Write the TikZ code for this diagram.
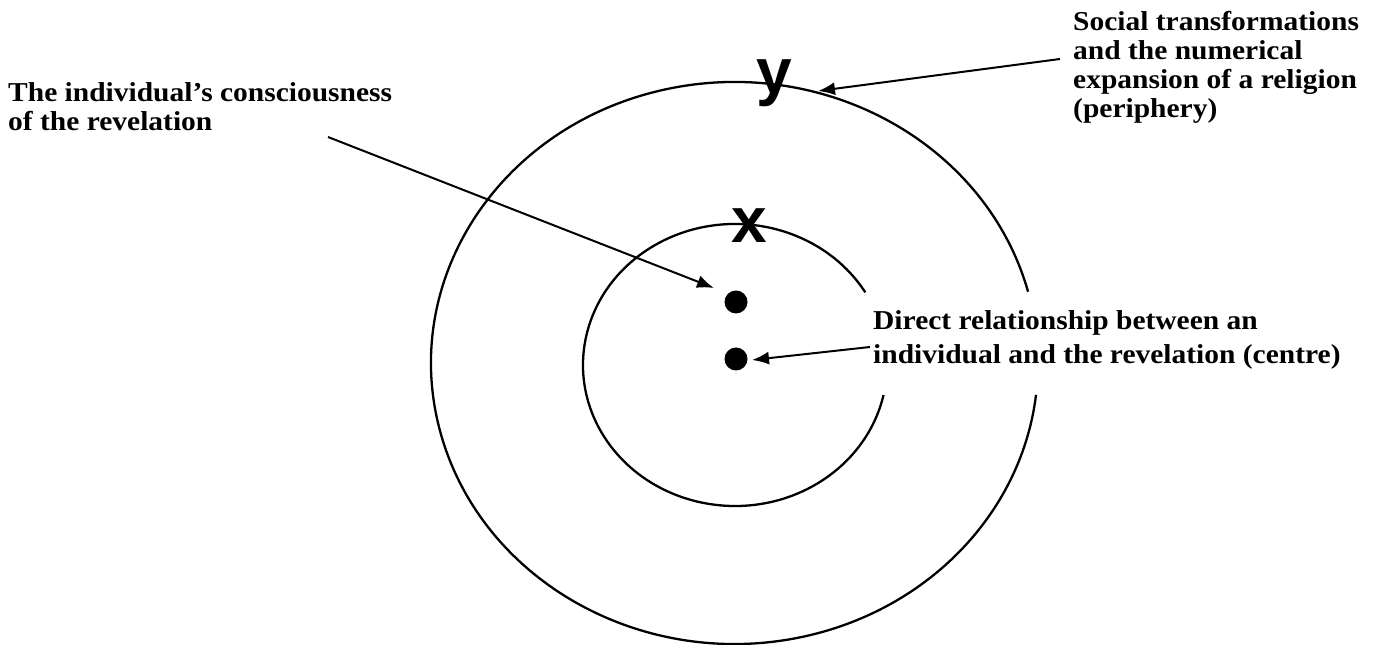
\documentclass[tikz,border=0pt]{standalone}
\usepackage{fontspec}
\setmainfont{Liberation Serif}[FakeStretch=1.08]
\newfontfamily\labsans{Liberation Sans}
\usetikzlibrary{arrows.meta}
\begin{document}
\begin{tikzpicture}[x=1pt,y=1pt,
 ring/.style={line width=2.3pt},
 pointer/.style={line width=2pt,-{Latex[length=17pt,width=13pt]}},
 txt/.style={font=\fontsize{27.3}{29}\selectfont\bfseries, align=left, inner sep=0pt, anchor=north west},
 txtwide/.style={txt, font=\fontsize{27.3}{34}\selectfont\bfseries},
 letter/.style={font=\labsans\bfseries\fontsize{64}{64}\selectfont, inner sep=0pt, anchor=base},
 dot/.style={circle, fill=black, minimum size=23pt, inner sep=0pt}]
\useasboundingbox (0,0) rectangle (1382,645);
% rings
\draw[ring] (734.5,282) ++(14.7:303.5 and 281) arc[start angle=14.7,end angle=353.5,x radius=303.5,y radius=281];
\draw[ring] (735,280) ++(31:152 and 141) arc[start angle=31,end angle=347.7,x radius=152,y radius=141];
% dots
\node[dot] (d1) at (736,343) {};
\node[dot] (d2) at (736,286) {};
% letters
\node[letter] (ylab) at (774,551) {y};
\node[letter] (xlab) at (749,402) {x};
% texts
\node[txt] (left) at (8,563) {The individual's consciousness\\of the revelation};
\node[txt] (right) at (1073,634) {Social transformations\\and the numerical\\expansion of a religion\\(periphery)};
\node[txtwide] (centre) at (873,335) {Direct relationship between an\\individual and the revelation (centre)};
% connectors
\coordinate (a1s) at (328,508);
\coordinate (a1e) at (714,357);
\coordinate (a2s) at (870,298);
\coordinate (a2e) at (752,285);
\coordinate (a3s) at (1060,586);
\coordinate (a3e) at (818,554);
\draw[pointer] (a1s) -- (a1e);
\draw[pointer] (a2s) -- (a2e);
\draw[pointer] (a3s) -- (a3e);
\end{tikzpicture}
\end{document}
